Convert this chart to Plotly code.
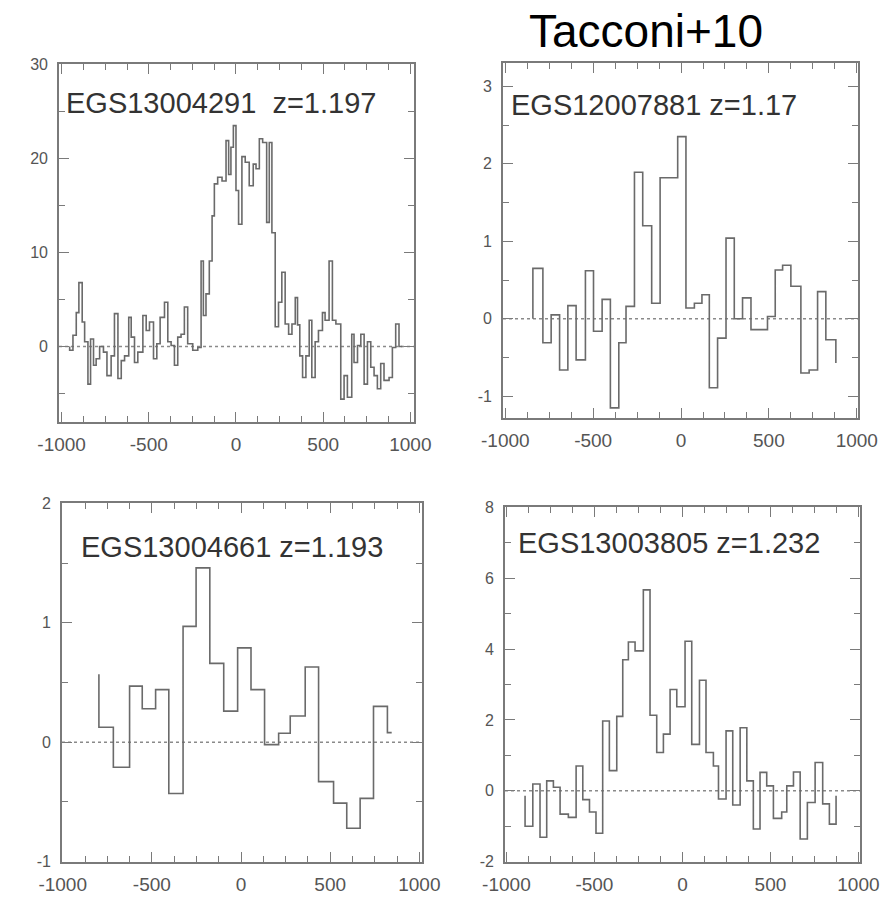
import plotly.graph_objects as go

# ---------------- data (velocity in km/s, flux) ----------------
# Top-left: EGS13004291 z=1.197  (left bin edges, bin values)
tl_vel = [-954, -935, -916, -901, -882, -868, -849, -834, -817, -802,
          -782, -760, -740, -716, -697, -677, -658, -639, -615, -601,
          -582, -563, -534, -515, -496, -473, -454, -435, -410, -391,
          -372, -353, -334, -315, -296, -277, -248, -219, -200, -187,
          -172, -153, -137, -124, -105, -80, -57, -42, -29, -15,
          0, 15, 34, 53, 76, 99, 115, 134, 153, 176,
          191, 206, 225, 244, 263, 282, 302, 321, 340, 353,
          366, 382, 401, 420, 435, 454, 473, 496, 511, 534,
          553, 573, 601, 620, 639, 664, 677, 697, 716, 735,
          754, 773, 792, 811, 830, 849, 878, 897, 916, 935]
tl_vel_end = 954
tl_flux = [-0.4, 1.2, 3.6, 6.8, 2.6, 0.5, -4.0, 0.8, -2.0, -1.3,
           0.0, -0.6, -3.1, -1.0, 3.5, -3.4, -1.5, -1.0, 3.1, 1.0,
           -1.7, -0.6, 3.3, 1.7, 2.6, -1.3, 0.3, 3.1, 4.7, 0.5,
           0.1, -2.0, 1.0, 1.3, 4.2, 0.3, -0.4, -0.1, 9.1, 3.3,
           5.6, 9.1, 13.9, 17.3, 18.0, 17.6, 21.9, 18.3, 21.2, 23.5,
           16.6, 13.0, 20.2, 19.6, 17.1, 19.4, 18.9, 22.1, 21.7, 13.2,
           21.7, 12.1, 2.1, 4.7, 7.9, 2.4, 1.3, 2.4, 5.2, 2.3,
           -1.0, -3.3, -1.0, 2.8, -3.3, 0.5, 1.7, 3.6, 2.8, 9.1,
           2.8, 2.4, -5.6, -3.1, -5.4, 1.3, -1.7, 0.1, 1.3, -4.0,
           0.5, -2.2, -3.1, -4.5, -1.8, -3.6, -3.3, -0.1, 2.4, 0.0]
tl_flux_start, tl_flux_end = 0.0, 0.0

# Top-right: EGS12007881 z=1.17
tr_vel = [-843, -786, -739, -691, -644, -597, -544, -498, -449, -402,
          -354, -313, -265, -218, -167, -119, -70, -19, 28, 76,
          119, 161, 208, 256, 303, 350, 398, 445, 492, 536,
          578, 625, 682, 729, 777, 824]
tr_vel_end = 881
tr_flux = [0.65, -0.31, 0.05, -0.66, 0.17, -0.53, 0.62, -0.16, 0.25, -1.15,
           -0.31, 0.16, 1.89, 1.2, 0.2, 1.82, 1.82, 2.35, 0.14, 0.2,
           0.31, -0.89, -0.25, 1.04, 0.0, 0.27, -0.14, -0.14, 0.03, 0.63,
           0.69, 0.42, -0.7, -0.66, 0.35, -0.27]
tr_flux_start, tr_flux_end = 0.0, -0.57

# Bottom-left: EGS13004661 z=1.193
bl_vel = [-797, -716, -625, -554, -479, -405, -325, -252, -175, -97,
          -19, 56, 132, 211, 276, 360, 435, 519, 593, 668,
          743, 821]
bl_vel_end = 845
bl_flux = [0.125, -0.21, 0.47, 0.28, 0.44, -0.43, 0.97, 1.46, 0.66, 0.26,
           0.79, 0.44, -0.02, 0.075, 0.22, 0.63, -0.33, -0.51, -0.72, -0.47,
           0.3, 0.08]
bl_flux_start, bl_flux_end = 0.57, 0.08

# Bottom-right: EGS13003805 z=1.232
br_vel = [-894, -850, -809, -771, -733, -695, -648, -604, -566, -528,
          -491, -453, -415, -373, -339, -307, -269, -222, -184, -146,
          -108, -70, -32, 15, 53, 97, 134, 176, 205, 248,
          286, 328, 366, 403, 441, 479, 517, 564, 593, 631,
          669, 710, 754, 797, 835]
br_vel_end = 873
br_flux = [-1.0, 0.19, -1.31, 0.28, 0.1, -0.66, -0.75, 0.7, -0.25, -0.6,
           -1.2, 1.97, 0.57, 2.1, 3.7, 4.2, 3.95, 5.67, 2.13, 1.08,
           1.6, 2.86, 2.37, 4.22, 1.31, 3.12, 1.08, 0.7, -0.23, 1.69,
           -0.4, 1.78, 0.28, -1.08, 0.52, 0.14, -0.78, -0.6, 0.14, 0.53,
           -1.36, -0.33, 0.8, -0.37, -0.94]
br_flux_start, br_flux_end = -0.14, -0.14

labels = ["EGS13004291\u00a0 z=1.197", "EGS12007881 z=1.17",
          "EGS13004661 z=1.193", "EGS13003805 z=1.232"]
x_ticks = [-1000, -500, 0, 500, 1000]
x_ticktext = ["-1000", "-500", "0", "500", "1000"]
tl_yticks = [0, 10, 20, 30]
tr_yticks = [-1, 0, 1, 2, 3]
bl_yticks = [-1, 0, 1, 2]
br_yticks = [-2, 0, 2, 4, 6, 8]
title_text = "Tacconi+10"

# ---------------- layout helpers ----------------
W, H = 883, 899
LINE = "#6a6a6a"
AX = "#7a7a7a"
TXT = "#555555"


def dom_x(a, b):
    return [a / W, b / W]


def dom_y(top, bottom):
    return [1 - bottom / H, 1 - top / H]


panels = [
    dict(vel=tl_vel, vend=tl_vel_end, flux=tl_flux, fs=tl_flux_start, fe=tl_flux_end,
         xd=(59, 414), yd=(64, 422), xr=(-1015, 1021), yr=(-8.03, 30.05),
         yt=tl_yticks, ymin=5, lab=labels[0], lxy=(64, 103)),
    dict(vel=tr_vel, vend=tr_vel_end, flux=tr_flux, fs=tr_flux_start, fe=tr_flux_end,
         xd=(503, 858), yd=(63, 418), xr=(-1013, 1007), yr=(-1.28, 3.30),
         yt=tr_yticks, ymin=0.5, lab=labels[1], lxy=(509, 105)),
    dict(vel=bl_vel, vend=bl_vel_end, flux=bl_flux, fs=bl_flux_start, fe=bl_flux_end,
         xd=(62, 422), yd=(503, 862), xr=(-1004, 1015), yr=(-1.003, 2.003),
         yt=bl_yticks, ymin=0.5, lab=labels[2], lxy=(79, 547)),
    dict(vel=br_vel, vend=br_vel_end, flux=br_flux, fs=br_flux_start, fe=br_flux_end,
         xd=(505, 860), yd=(507, 862), xr=(-1008, 1009), yr=(-2.01, 8.01),
         yt=br_yticks, ymin=1, lab=labels[3], lxy=(516, 543)),
]

fig = go.Figure()
layout = dict(width=W, height=H, margin=dict(l=0, r=0, t=0, b=0, pad=0, autoexpand=False),
              paper_bgcolor="white", plot_bgcolor="white", showlegend=False,
              font=dict(family="Liberation Sans, Arial, sans-serif"))
annotations = []
shapes = []

for i, p in enumerate(panels):
    n = "" if i == 0 else str(i + 1)
    xa, ya = "x" + n, "y" + n
    xs = [p["vel"][0]] + list(p["vel"]) + [p["vend"]]
    ys = [p["fs"]] + list(p["flux"]) + [p["fe"]]
    fig.add_trace(go.Scatter(x=xs, y=ys, mode="lines", line_shape="hv",
                             line=dict(color=LINE, width=1.6),
                             xaxis=xa, yaxis=ya, hoverinfo="skip"))
    common = dict(showgrid=False, zeroline=False, showline=True, mirror="allticks",
                  linecolor=AX, linewidth=1.6, ticks="inside", tickcolor=AX,
                  tickwidth=1.4, ticklen=10, automargin=False)
    layout["xaxis" + n] = dict(
        domain=dom_x(*p["xd"]), range=list(p["xr"]), anchor=ya,
        tickmode="array", tickvals=x_ticks, ticktext=x_ticktext,
        tickfont=dict(size=19, color=TXT), ticklabelstandoff=4,
        minor=dict(ticks="inside", ticklen=6, dtick=125, tick0=0,
                   tickcolor=AX, tickwidth=1.2, showgrid=False),
        **common)
    layout["yaxis" + n] = dict(
        domain=dom_y(*p["yd"]), range=list(p["yr"]), anchor=xa,
        tickmode="array", tickvals=p["yt"], ticktext=[str(v) for v in p["yt"]],
        tickfont=dict(size=16, color=TXT), ticklabelstandoff=6,
        minor=dict(ticks="inside", ticklen=6, dtick=p["ymin"], tick0=0,
                   tickcolor=AX, tickwidth=1.2, showgrid=False),
        **common)
    shapes.append(dict(type="line", xref=xa + " domain", yref=ya,
                       x0=0, x1=1, y0=0, y1=0,
                       line=dict(color="#8a8a8a", width=1.5, dash="dot"),
                       layer="below"))
    annotations.append(dict(text=p["lab"], xref="paper", yref="paper",
                            x=p["lxy"][0] / W, y=1 - p["lxy"][1] / H,
                            xanchor="left", yanchor="middle", showarrow=False,
                            font=dict(size=29, color="#333333")))

annotations.append(dict(text=title_text, xref="paper", yref="paper",
                        x=646 / W, y=1 - 31 / H, xanchor="center", yanchor="middle",
                        showarrow=False, font=dict(size=46, color="black")))

layout["annotations"] = annotations
layout["shapes"] = shapes
fig.update_layout(**layout)
fig.write_html("out.html")
